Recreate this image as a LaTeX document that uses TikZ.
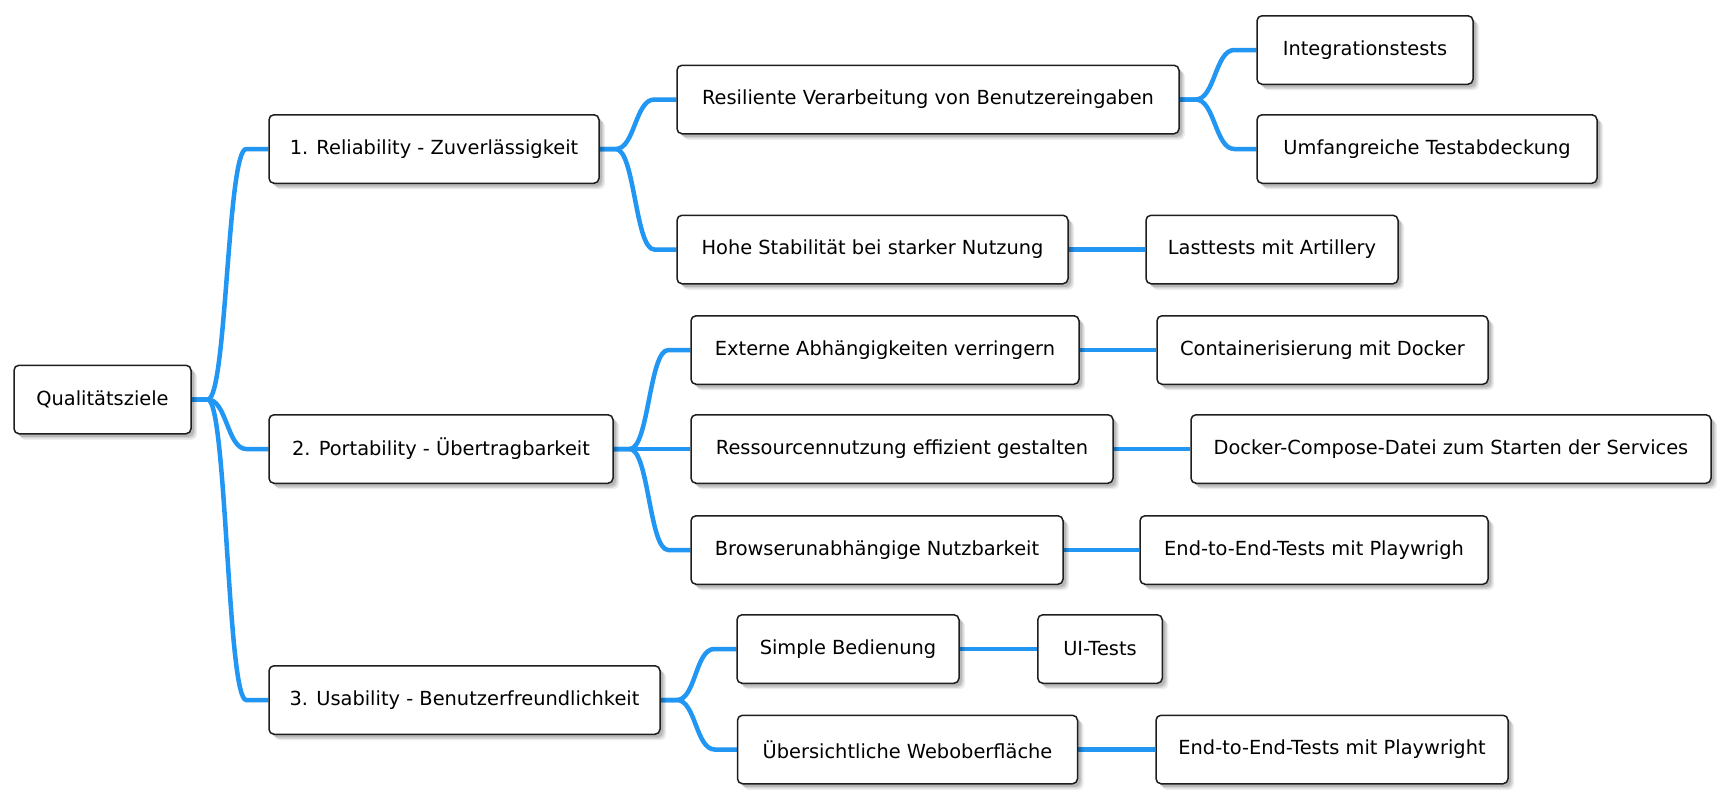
\documentclass[tikz,border=0pt]{standalone}
\usepackage{fontspec}
\setmainfont{DejaVu Sans}
\usetikzlibrary{calc,shadows,backgrounds}
\definecolor{linkblue}{RGB}{33,150,243}
\definecolor{boxline}{RGB}{30,30,30}
\tikzset{
  topic/.style={draw=boxline, line width=1.5pt, fill=white, rounded corners=5pt,
    minimum height=68.5pt, inner xsep=0pt, align=center,
    font=\fontsize{19.4}{23}\selectfont, text=black,
    drop shadow={shadow xshift=6pt, shadow yshift=-6pt, fill=black, opacity=0.07},
    drop shadow={shadow xshift=4.5pt, shadow yshift=-4.5pt, fill=black, opacity=0.1},
    drop shadow={shadow xshift=3pt, shadow yshift=-3pt, fill=black, opacity=0.13}},
  conn/.style={draw=linkblue, line width=4.5pt}
}
\newcommand{\linkto}[2]{\draw[conn] (#1.east) -- ++(16,0) .. controls +(19,0) and ($(#2.west)+(-41,0)$) .. ($(#2.west)+(-22,0)$) -- (#2.west);}
\begin{document}
\begin{tikzpicture}[x=1pt,y=-1pt]
\useasboundingbox (0,0) rectangle (1731,801);
\node[topic, minimum width=177pt] (root) at (102.5,399.5) {Qualitätsziele};
\node[topic, minimum width=330pt] (r1) at (434,149) {1. Reliability - Zuverlässigkeit};
\node[topic, minimum width=344pt] (r2) at (441,449) {2. Portability - Übertragbarkeit};
\node[topic, minimum width=391pt] (r3) at (464.5,700) {3. Usability - Benutzerfreundlichkeit};
\node[topic, minimum width=502pt] (res) at (928,99.5) {Resiliente Verarbeitung von Benutzereingaben};
\node[topic, minimum width=391pt] (hohe) at (872.5,249.5) {Hohe Stabilität bei starker Nutzung};
\node[topic, minimum width=388pt] (ext) at (885,350) {Externe Abhängigkeiten verringern};
\node[topic, minimum width=422pt] (ress) at (902,449) {Ressourcennutzung effizient gestalten};
\node[topic, minimum width=372pt] (brow) at (877,550) {Browserunabhängige Nutzbarkeit};
\node[topic, minimum width=222pt] (simp) at (848,649) {Simple Bedienung};
\node[topic, minimum width=340pt] (uber) at (907.5,749.5) {Übersichtliche Weboberfläche};
\node[topic, minimum width=216pt] (integ) at (1365,50) {Integrationstests};
\node[topic, minimum width=340pt] (umf) at (1427,149) {Umfangreiche Testabdeckung};
\node[topic, minimum width=252pt] (last) at (1272,249.5) {Lasttests mit Artillery};
\node[topic, minimum width=331pt] (cont) at (1322.5,350) {Containerisierung mit Docker};
\node[topic, minimum width=520pt] (dock) at (1451,449) {Docker-Compose-Datei zum Starten der Services};
\node[topic, minimum width=348pt] (e2ea) at (1314,550) {End-to-End-Tests mit Playwrigh};
\node[topic, minimum width=124.5pt] (ui) at (1100,649) {UI-Tests};
\node[topic, minimum width=352pt] (e2eb) at (1332,749.5) {End-to-End-Tests mit Playwright};
\begin{scope}[on background layer]
\fill[white] (0,0) rectangle (1731,801);
\linkto{root}{r1}
\linkto{root}{r2}
\linkto{root}{r3}
\linkto{r1}{res}
\linkto{r1}{hohe}
\linkto{r2}{ext}
\linkto{r2}{ress}
\linkto{r2}{brow}
\linkto{r3}{simp}
\linkto{r3}{uber}
\linkto{res}{integ}
\linkto{res}{umf}
\linkto{hohe}{last}
\linkto{ext}{cont}
\linkto{ress}{dock}
\linkto{brow}{e2ea}
\linkto{simp}{ui}
\linkto{uber}{e2eb}
\end{scope}
\end{tikzpicture}
\end{document}
